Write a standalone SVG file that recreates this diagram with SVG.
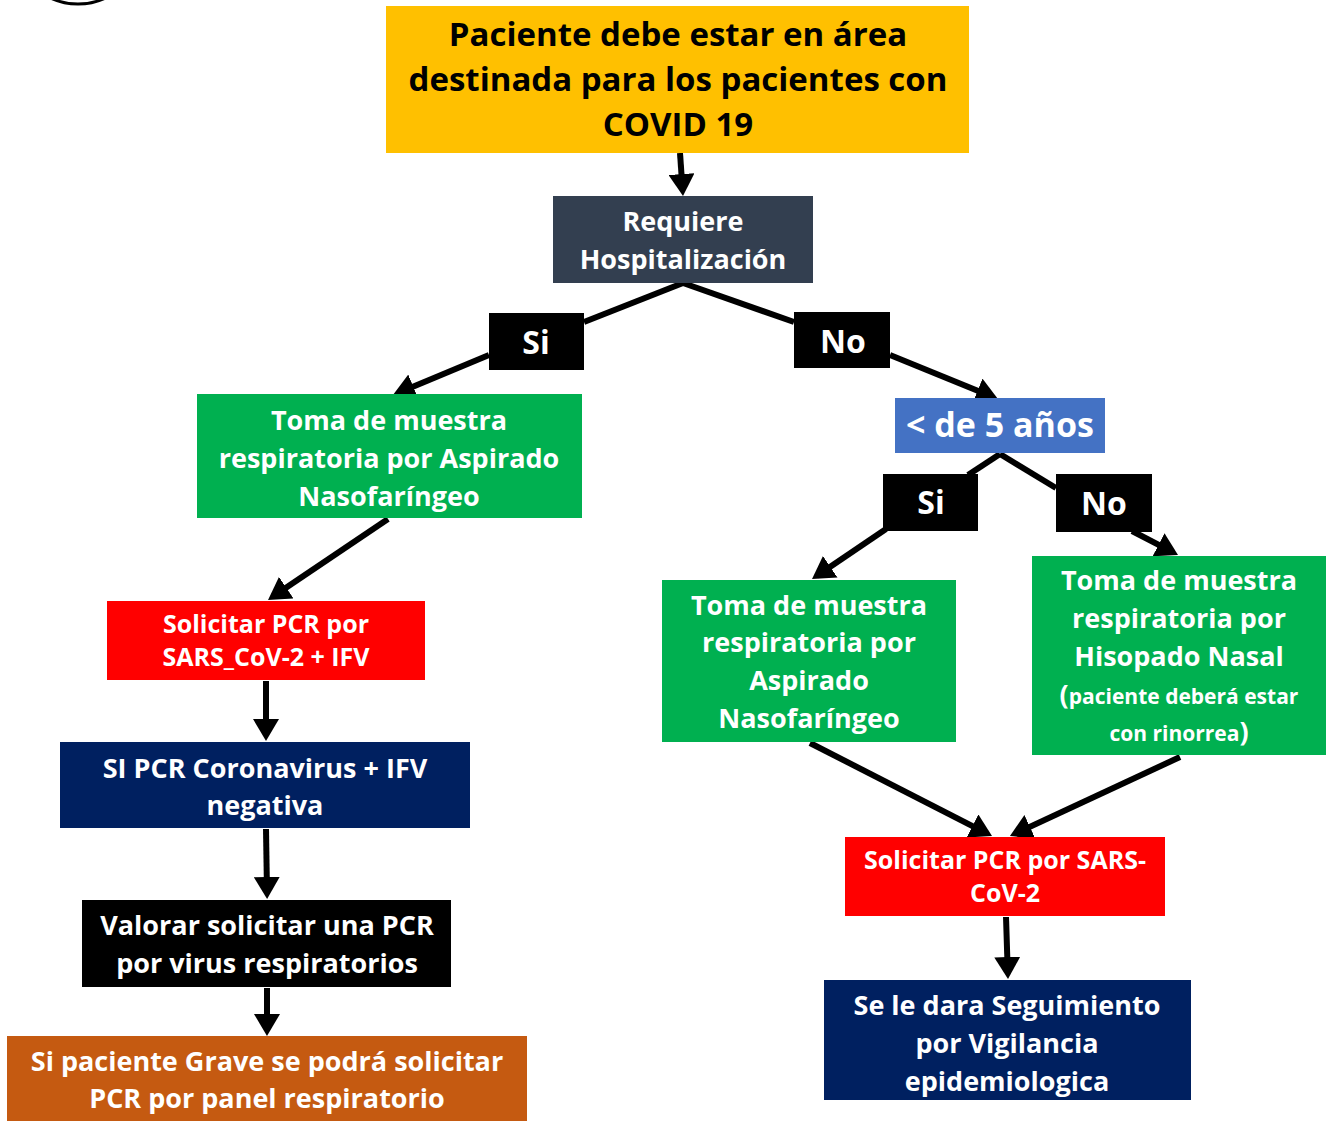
<svg xmlns="http://www.w3.org/2000/svg" width="1326" height="1121" viewBox="0 0 1326 1121">
<style>
text{font-family:"Open Sans",Lato,"Liberation Sans",sans-serif;font-weight:bold;text-anchor:middle;fill:#fff}
.dk{fill:#000}
.t33{font-size:33px}
.t32{font-size:32px}
.t27{font-size:27px}
.t25{font-size:25px}
.t21{font-size:21px}
.ln{stroke:#000;stroke-width:6;fill:none}
</style>
<defs>
<marker id="ah" markerUnits="userSpaceOnUse" markerWidth="24" markerHeight="26" refX="16" refY="13" orient="auto" viewBox="0 0 24 26">
<path d="M0,0 L22,13 L0,26 z" fill="#000"/>
</marker>
</defs>
<rect width="1326" height="1121" fill="#fff"/>
<circle cx="78" cy="-60" r="64" fill="none" stroke="#000" stroke-width="3"/>

<g id="connectors">
<line class="ln" x1="680" y1="153" x2="682.6" y2="190" marker-end="url(#ah)"/>
<line class="ln" x1="683" y1="283" x2="584" y2="322"/>
<line class="ln" x1="683" y1="283" x2="794" y2="322"/>
<line class="ln" x1="489" y1="355" x2="398.5" y2="392.7" marker-end="url(#ah)"/>
<line class="ln" x1="890" y1="355" x2="992.4" y2="396.7" marker-end="url(#ah)"/>
<line class="ln" x1="388" y1="519" x2="273" y2="596.6" marker-end="url(#ah)"/>
<line class="ln" x1="266" y1="681" x2="266" y2="735" marker-end="url(#ah)"/>
<line class="ln" x1="266" y1="829" x2="267" y2="893" marker-end="url(#ah)"/>
<line class="ln" x1="267" y1="988" x2="267" y2="1030" marker-end="url(#ah)"/>
<line class="ln" x1="1000" y1="454" x2="968" y2="475"/>
<line class="ln" x1="1000" y1="454" x2="1056" y2="488"/>
<line class="ln" x1="886" y1="529" x2="817" y2="575.7" marker-end="url(#ah)"/>
<line class="ln" x1="1132" y1="531" x2="1172.7" y2="552.2" marker-end="url(#ah)"/>
<line class="ln" x1="810" y1="743" x2="986.7" y2="833.3" marker-end="url(#ah)"/>
<line class="ln" x1="1180" y1="757" x2="1015.4" y2="833.5" marker-end="url(#ah)"/>
<line class="ln" x1="1006" y1="917" x2="1007.8" y2="973" marker-end="url(#ah)"/>
</g>

<g id="n-start">
<rect x="386" y="6" width="583" height="147" fill="#FFC000"/>
<text class="dk t33" x="678" y="46">Paciente debe estar en área</text>
<text class="dk t33" x="678" y="91">destinada para los pacientes con</text>
<text class="dk t33" x="678" y="136">COVID 19</text>
</g>

<g id="n-hosp">
<rect x="553" y="196" width="260" height="87" fill="#333F50"/>
<text class="t27" x="683" y="231">Requiere</text>
<text class="t27" x="683" y="269">Hospitalización</text>
</g>

<g id="n-si1">
<rect x="489" y="313" width="95" height="57" fill="#000"/>
<text class="t32" x="536" y="354">Si</text>
</g>

<g id="n-no1">
<rect x="794" y="312" width="96" height="56" fill="#000"/>
<text class="t32" x="843" y="353">No</text>
</g>

<g id="n-green1">
<rect x="197" y="394" width="385" height="124" fill="#00B050"/>
<text class="t27" x="389" y="430">Toma de muestra</text>
<text class="t27" x="389" y="468">respiratoria por Aspirado</text>
<text class="t27" x="389" y="506">Nasofaríngeo</text>
</g>

<g id="n-age">
<rect x="895" y="398" width="210" height="55" fill="#4472C4"/>
<text class="t33" x="1000" y="437" style="font-size:34px">&lt; de 5 años</text>
</g>

<g id="n-si2">
<rect x="883" y="474" width="95" height="57" fill="#000"/>
<text class="t32" x="931" y="514">Si</text>
</g>

<g id="n-no2">
<rect x="1056" y="474" width="96" height="58" fill="#000"/>
<text class="t32" x="1104" y="515">No</text>
</g>

<g id="n-green2">
<rect x="662" y="580" width="294" height="162" fill="#00B050"/>
<text class="t27" x="809" y="615">Toma de muestra</text>
<text class="t27" x="809" y="652">respiratoria por</text>
<text class="t27" x="809" y="690">Aspirado</text>
<text class="t27" x="809" y="728">Nasofaríngeo</text>
</g>

<g id="n-green3">
<rect x="1032" y="556" width="294" height="199" fill="#00B050"/>
<text class="t27" x="1179" y="590">Toma de muestra</text>
<text class="t27" x="1179" y="628">respiratoria por</text>
<text class="t27" x="1179" y="666">Hisopado Nasal</text>
<text class="t21" x="1179" y="704"><tspan class="t27">(</tspan>paciente deberá estar</text>
<text class="t21" x="1179" y="741">con rinorrea<tspan class="t27">)</tspan></text>
</g>

<g id="n-red1">
<rect x="107" y="601" width="318" height="79" fill="#FF0000"/>
<text class="t25" x="266" y="633">Solicitar PCR por</text>
<text class="t25" x="266" y="666">SARS_CoV-2 + IFV</text>
</g>

<g id="n-navy1">
<rect x="60" y="742" width="410" height="86" fill="#002060"/>
<text class="t27" x="265" y="778">SI PCR Coronavirus + IFV</text>
<text class="t27" x="265" y="815">negativa</text>
</g>

<g id="n-black">
<rect x="82" y="900" width="369" height="87" fill="#000"/>
<text class="t27" x="267" y="935">Valorar solicitar una PCR</text>
<text class="t27" x="267" y="973">por virus respiratorios</text>
</g>

<g id="n-orange">
<rect x="7" y="1036" width="520" height="90" fill="#C55A11"/>
<text class="t27" x="267" y="1071">Si paciente Grave se podrá solicitar</text>
<text class="t27" x="267" y="1108">PCR por panel respiratorio</text>
</g>

<g id="n-red2">
<rect x="845" y="837" width="320" height="79" fill="#FF0000"/>
<text class="t25" x="1005" y="869">Solicitar PCR por SARS-</text>
<text class="t25" x="1005" y="902">CoV-2</text>
</g>

<g id="n-navy2">
<rect x="824" y="980" width="367" height="120" fill="#002060"/>
<text class="t27" x="1007" y="1015">Se le dara Seguimiento</text>
<text class="t27" x="1007" y="1053">por Vigilancia</text>
<text class="t27" x="1007" y="1091">epidemiologica</text>
</g>
</svg>
